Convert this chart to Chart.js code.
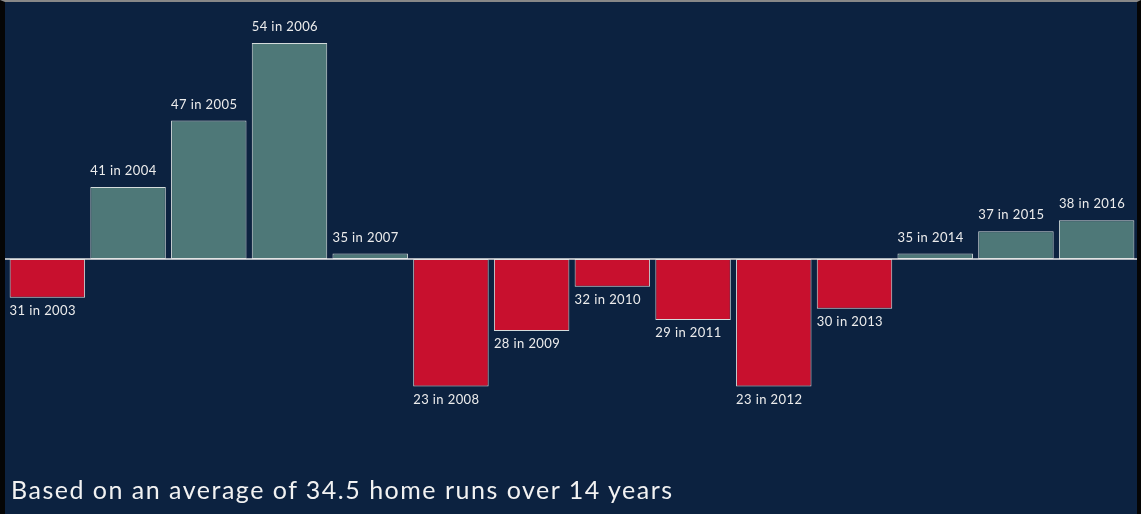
<!DOCTYPE html>
<html>
<head>
<meta charset="utf-8">
<script src="https://cdn.jsdelivr.net/npm/chart.js@4"></script>
<style>
  html, body { margin: 0; padding: 0; background: #000; }
  #frame {
    position: relative; width: 1141px; height: 514px; box-sizing: border-box;
    background: #0c2240; border-left: 5px solid #050505; border-right: 4px solid #050505;
    border-top: 2px solid #888; overflow: hidden;
  }
  #chart { position: absolute; left: 0; top: 0; }
  #caption {
    position: absolute; left: 6px; top: 472px; color: #f2f2f2;
    font-family: Lato, "Noto Sans", sans-serif; font-size: 25px; letter-spacing: 1.5px;
  }
</style>
</head>
<body>
<div id="frame">
  <canvas id="chart" width="1132" height="512"></canvas>
  <div id="caption">Based on an average of 34.5 home runs over 14 years</div>
</div>
<script>
const years = ['2003', '2004', '2005', '2006', '2007', '2008', '2009', '2010', '2011', '2012', '2013', '2014', '2015', '2016'];
const homeRuns = [31, 41, 47, 54, 35, 23, 28, 32, 29, 23, 30, 35, 37, 38];
const average = 34.5;

const UP_COLOR = '#4e7878';
const DOWN_COLOR = '#c8102e';

// deviation from the average drives bar height
const deviations = homeRuns.map(v => v - average);

// white baseline + "N in YEAR" labels
const labelPlugin = {
    id: 'barLabels',
    afterDatasetsDraw(chart) {
        const ctx = chart.ctx;
        const area = chart.chartArea;
        const y0 = chart.scales.y.getPixelForValue(0);

        ctx.save();
        ctx.strokeStyle = '#e6e6e6';
        ctx.lineWidth = 1.5;
        ctx.beginPath();
        ctx.moveTo(0, y0);
        ctx.lineTo(area.right + 2, y0);
        ctx.stroke();

        ctx.font = '13px Lato, "Noto Sans", sans-serif';
        ctx.letterSpacing = '0.4px';
        ctx.fillStyle = '#ececec';
        ctx.textAlign = 'left';
        ctx.textBaseline = 'middle';
        chart.getDatasetMeta(0).data.forEach((bar, i) => {
            const left = bar.x - bar.width / 2;
            const text = homeRuns[i] + ' in ' + years[i];
            if (deviations[i] >= 0) {
                ctx.fillText(text, left, bar.y - 16);
            } else {
                ctx.fillText(text, left, bar.y + 13);
            }
        });
        ctx.restore();
    }
};

new Chart(document.getElementById('chart').getContext('2d'), {
    type: 'bar',
    data: {
        labels: years,
        datasets: [{
            data: deviations,
            backgroundColor: deviations.map(d => d >= 0 ? UP_COLOR : DOWN_COLOR),
            borderColor: '#d4dcdc',
            borderWidth: 1,
            borderSkipped: false,
            barPercentage: 0.935,
            categoryPercentage: 1
        }]
    },
    options: {
        responsive: false,
        animation: false,
        layout: { padding: { left: 2, right: 0, top: 41, bottom: 39 } },
        plugins: { legend: { display: false }, tooltip: { enabled: false } },
        scales: {
            x: { display: false },
            y: { display: false, min: -19.5, max: 19.5 }
        }
    },
    plugins: [labelPlugin]
});
</script>
</body>
</html>
